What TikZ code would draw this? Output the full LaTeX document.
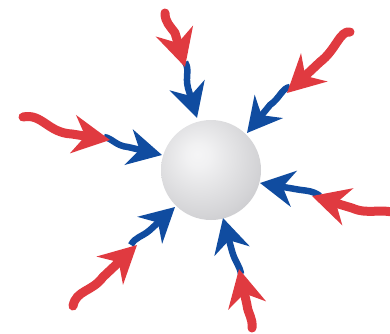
\documentclass[tikz,border=0pt]{standalone}
\usetikzlibrary{arrows.meta}
\definecolor{arrred}{RGB}{224,58,64}
\definecolor{arrblue}{RGB}{16,76,160}
\pgfdeclareradialshading{sphereshade}{\pgfpoint{-7bp}{8bp}}{%
  rgb(0bp)=(0.96,0.96,0.965);
  rgb(6bp)=(0.945,0.945,0.95);
  rgb(28bp)=(0.83,0.83,0.84);
  rgb(50bp)=(0.69,0.69,0.71);
  rgb(56bp)=(0.60,0.60,0.62);
  rgb(80bp)=(0.60,0.60,0.62)}
\tikzset{
  redpart/.style={draw=arrred, line width=9pt, line cap=round, line join=round,
    -{Stealth[length=37pt,width=38pt,inset=12pt]}},
  bluepart/.style={draw=arrblue, line width=6.5pt, line join=round,
    -{Stealth[length=34pt,width=36pt,inset=11pt]}},
  ball/.style={circle, minimum size=100pt, inner sep=0pt, shading=sphereshade}
}
\begin{document}
\begin{tikzpicture}[x=1pt,y=-1pt]
\useasboundingbox (0,0) rectangle (390,333);
\node[ball] (sphere) at (211,170) {};
% top
\draw[bluepart] (185,62) .. controls (190,70) and (185,76) .. (188,88) -- (197,118);
\draw[redpart] (165,13) .. controls (165,22) and (170,26) .. (175,33) -- (185,67);
% left
\draw[bluepart] (104,137) .. controls (112,138) and (116,146) .. (128,147) -- (162,155);
\draw[redpart] (23,117) .. controls (42,113) and (48,133) .. (72,134) -- (110,140);
% top right
\draw[bluepart] (290,87) .. controls (282,88) and (280,98) .. (270,105) -- (247,133);
\draw[redpart] (350,32) .. controls (340,30) and (336,50) .. (320,62) -- (287,93);
% right
\draw[bluepart] (320,196) .. controls (312,190) and (305,191) .. (295,189) -- (260,183);
\draw[redpart] (396,213) .. controls (380,208) and (368,215) .. (352,208) -- (312,196);
% bottom left
\draw[bluepart] (131,245) .. controls (135,237) and (142,237) .. (150,230) -- (175,207);
\draw[redpart] (73,306) .. controls (76,290) and (92,292) .. (103,277) -- (137,245);
% bottom
\draw[bluepart] (241,274) .. controls (240,266) and (235,262) .. (232,251) -- (223,218);
\draw[redpart] (252,328) .. controls (253,318) and (248,314) .. (247,305) -- (239,269);
\end{tikzpicture}
\end{document}
